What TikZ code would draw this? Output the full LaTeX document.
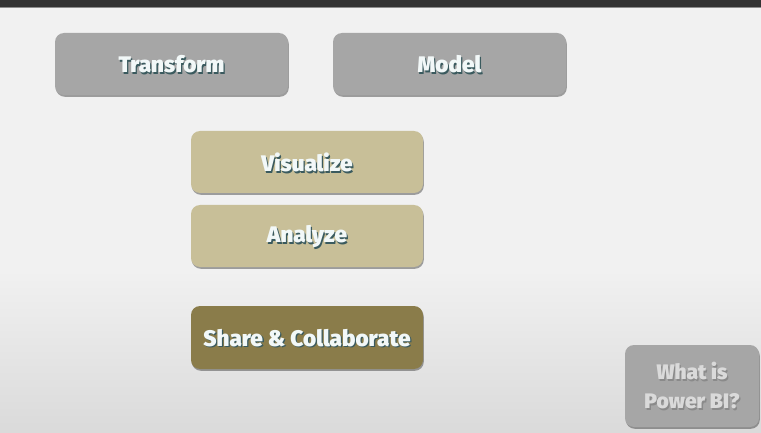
\documentclass[tikz,border=0pt]{standalone}
\usepackage{fontspec}
\setmainfont{Fira Sans}[BoldFont={Fira Sans Black}]
\usetikzlibrary{shadows}
\definecolor{bgtop}{HTML}{F1F1F1}
\definecolor{bgbot}{HTML}{DADADA}
\definecolor{bargray}{HTML}{333333}
\definecolor{boxgray}{HTML}{A6A6A6}
\definecolor{boxtan}{HTML}{C8BF98}
\definecolor{boxolive}{HTML}{8A7C4A}
\definecolor{txtshadow}{HTML}{3A5A5E}
\definecolor{txtwhite}{HTML}{F2F8F8}
\definecolor{qtext}{HTML}{DADADA}
\definecolor{qshadow}{HTML}{8A8A8A}
\tikzset{
  x=1pt, y=-1pt,
  card/.style={rounded corners=9pt, minimum height=62pt, inner sep=0pt,
    drop shadow={shadow xshift=0.8pt, shadow yshift=-1.8pt, opacity=0.35, fill=black}},
  lbl/.style={font=\fontsize{22.5}{26}\selectfont\bfseries, text=txtwhite, align=center},
  lblsh/.style={font=\fontsize{22.5}{26}\selectfont\bfseries, text=txtshadow, align=center},
}
\begin{document}
\begin{tikzpicture}
\useasboundingbox (0,0) rectangle (761,433);
\shade[top color=bgtop, bottom color=bgtop] (0,0) rectangle (761,270);
\shade[top color=bgtop, bottom color=bgbot] (0,270) rectangle (761,433);
\fill[bargray] (0,0) rectangle (761,7);
\fill[black!45] (0,7) rectangle (761,8.5);

% boxes
\node[card, fill=boxgray, minimum width=233pt] (transform) at (171.5,64) {};
\node[card, fill=boxgray, minimum width=233pt] (model) at (449.5,64) {};
\node[card, fill=boxtan, minimum width=232pt] (visualize) at (307,162) {};
\node[card, fill=boxtan, minimum width=232pt] (analyze) at (307,236) {};
\node[card, fill=boxolive, minimum width=232pt, minimum height=63pt] (share) at (307,337.5) {};
\node[card, fill=boxgray, minimum width=134pt, minimum height=82pt] (whatis) at (692,386) {};

% labels with shadows
\foreach \n/\t in {transform/Transform, model/Model, visualize/Visualize, analyze/Analyze, share/Share \& Collaborate}{
  \node[lblsh] at ([xshift=1.3pt,yshift=-2pt]\n.center) {\t};
  \node[lbl] at ([yshift=-0.5pt]\n.center) {\t};
}
\node[lblsh, text=qshadow, font=\fontsize{21}{29}\selectfont\bfseries] at ([xshift=1.3pt,yshift=-1.5pt]whatis.center) {What is\\Power BI?};
\node[lbl, text=qtext, font=\fontsize{21}{29}\selectfont\bfseries] at (whatis.center) {What is\\Power BI?};
\end{tikzpicture}
\end{document}
